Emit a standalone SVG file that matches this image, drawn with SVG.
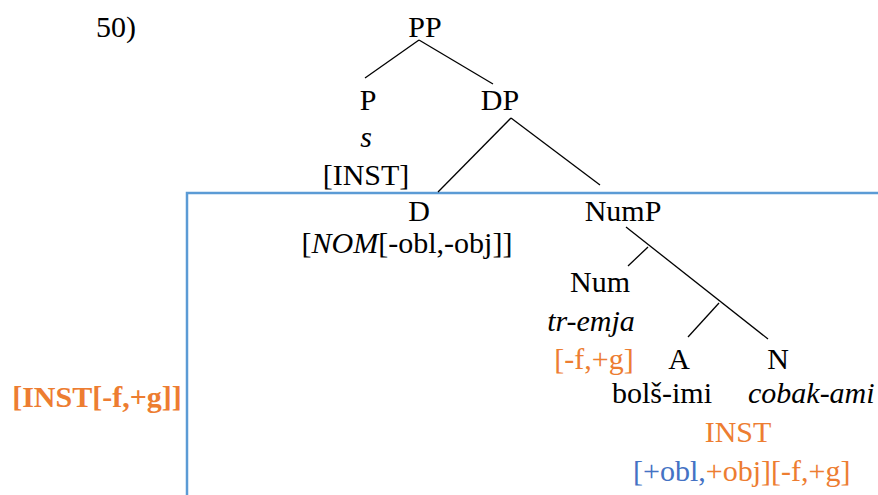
<svg xmlns="http://www.w3.org/2000/svg" width="878" height="495" viewBox="0 0 878 495" font-family="Liberation Serif, DejaVu Serif, serif">
<style>
text{font-size:30px;fill:#000;text-anchor:middle}
.it{font-style:italic}
.or{fill:#ED7D31}
.bl{fill:#4472C4}
.edge{stroke:#000;stroke-width:1.3;fill:none}
</style>
<rect width="878" height="495" fill="#fff"/>
<g id="box"><path d="M187 495 V193 H880" fill="none" stroke="#5B9BD5" stroke-width="2.5"/></g>
<g id="connectors">
<line class="edge" x1="419" y1="40" x2="365" y2="78"/>
<line class="edge" x1="419" y1="40" x2="493" y2="84"/>
<line class="edge" x1="511" y1="118" x2="438" y2="192"/>
<line class="edge" x1="511" y1="118" x2="600" y2="185"/>
<line class="edge" x1="626" y1="227" x2="768" y2="339"/>
<line class="edge" x1="648" y1="247" x2="628" y2="266"/>
<line class="edge" x1="719" y1="303" x2="688" y2="337"/>
</g>
<g id="label50"><text x="116" y="37">50)</text></g>
<g id="PP"><text x="425" y="37">PP</text></g>
<g id="P"><text x="368" y="110">P</text><text class="it" x="366" y="147">s</text><text x="366" y="185">[INST]</text></g>
<g id="DP"><text x="500" y="110">DP</text></g>
<g id="D"><text x="419" y="221">D</text><text x="407" y="253">[<tspan font-style="italic">NOM</tspan>[-obl,-obj]]</text></g>
<g id="NumP"><text x="623" y="221">NumP</text></g>
<g id="Num"><text x="600" y="292">Num</text><text class="it" x="591" y="331">tr-emja</text><text class="or" x="594" y="369">[-f,+g]</text></g>
<g id="A"><text x="679" y="369">A</text><text x="662" y="403">bolš-imi</text></g>
<g id="N"><text x="778" y="369">N</text><text class="it" x="748" y="403" style="text-anchor:start">cobak-ami</text></g>
<g id="INST"><text class="or" x="738" y="442">INST</text><text x="633" y="481" style="text-anchor:start"><tspan class="bl">[+obl,</tspan><tspan class="or">+obj][-f,+g]</tspan></text></g>
<g id="outer"><text class="or" x="97" y="407" font-weight="bold">[INST[-f,+g]]</text></g>
</svg>
